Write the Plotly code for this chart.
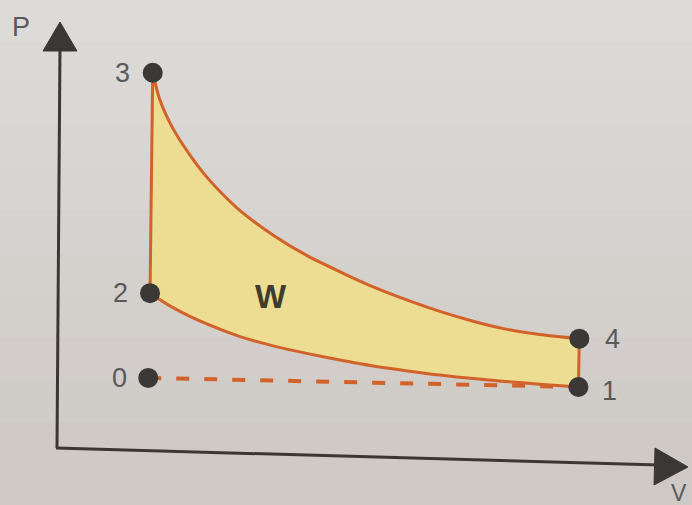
import plotly.graph_objects as go

# ---- data (V, P in arbitrary units) ----
state_labels = ["0", "1", "2", "3", "4"]
state_V = [0.98, 5.76, 1.00, 1.03, 5.77]
state_P = [1.03, 0.90, 2.24, 5.39, 1.59]

# adiabatic expansion 3 -> 4
upper_V = [1.03, 1.11, 1.26, 1.44, 1.61, 1.81, 2.00, 2.39, 2.74, 3.17, 3.48, 3.86, 4.22, 4.59, 4.94, 5.33, 5.77]
upper_P = [5.39, 5.00, 4.58, 4.22, 3.93, 3.65, 3.42, 3.05, 2.78, 2.51, 2.33, 2.14, 1.98, 1.84, 1.73, 1.65, 1.59]
# adiabatic compression 1 -> 2 (listed from 2 to 1)
lower_V = [1.00, 1.26, 1.63, 2.00, 2.39, 2.74, 3.17, 3.48, 3.86, 4.22, 4.59, 4.94, 5.33, 5.76]
lower_P = [2.24, 2.03, 1.80, 1.62, 1.48, 1.38, 1.27, 1.20, 1.13, 1.07, 1.02, 0.98, 0.94, 0.90]

W, H = 692, 505
X_RANGE = [-0.667, 7.022]
Y_RANGE = [-0.786, 6.4286]

LINE = "#d2622a"
FILL = "#ecdd93"
DOT = "#3a3937"
AX = "#3b3734"
TXT = "#5a595a"

fig = go.Figure()

# filled cycle area: 2 -> 3 -> (upper) -> 4 -> 1 -> (lower reversed) -> 2
cyc_V = [state_V[2]] + upper_V + [state_V[1]] + lower_V[::-1]
cyc_P = [state_P[2]] + upper_P + [state_P[1]] + lower_P[::-1]
fig.add_trace(go.Scatter(x=cyc_V, y=cyc_P, mode="lines", fill="toself",
                         fillcolor=FILL, line=dict(color=FILL, width=0), hoverinfo="skip"))

# outline pieces
fig.add_trace(go.Scatter(x=[state_V[2], state_V[3]], y=[state_P[2], state_P[3]], mode="lines",
                         line=dict(color=LINE, width=3), hoverinfo="skip"))
fig.add_trace(go.Scatter(x=upper_V, y=upper_P, mode="lines", line_shape="spline",
                         line=dict(color=LINE, width=3, smoothing=0.8), hoverinfo="skip"))
fig.add_trace(go.Scatter(x=[state_V[4], state_V[1]], y=[state_P[4], state_P[1]], mode="lines",
                         line=dict(color=LINE, width=3), hoverinfo="skip"))
fig.add_trace(go.Scatter(x=lower_V, y=lower_P, mode="lines", line_shape="spline",
                         line=dict(color=LINE, width=3, smoothing=0.8), hoverinfo="skip"))

# dashed isobar 0 -> 1
fig.add_trace(go.Scatter(x=[state_V[0], state_V[1]], y=[state_P[0], state_P[1]], mode="lines",
                         line=dict(color=LINE, width=4, dash="13px,15px"), hoverinfo="skip"))

# state points
fig.add_trace(go.Scatter(x=state_V, y=state_P, mode="markers",
                         marker=dict(color=DOT, size=20), hoverinfo="skip"))

# point labels
offsets = {"0": -29, "1": 31, "2": -30, "3": -30, "4": 33}
yoffs = {"0": 0, "1": -4, "2": 0, "3": 0, "4": 0}
for lab, v, p in zip(state_labels, state_V, state_P):
    fig.add_annotation(x=v, y=p, text=lab, showarrow=False, xshift=offsets[lab], yshift=yoffs[lab],
                       xanchor="center", yanchor="middle",
                       font=dict(family="Liberation Sans", size=27, color=TXT))

fig.add_annotation(x=2.34, y=2.19, text="<b>W</b>", showarrow=False,
                   xanchor="center", yanchor="middle",
                   font=dict(family="Liberation Sans", size=33, color="#3f3d2e"))

# ---- decoration in paper coords (pixel helper) ----
def px(x, y):
    return x / W, 1 - y / H

shapes = []
# paper background gradient
top = (221, 219, 216)
bot = (206, 201, 197)
n = 12
for i in range(n):
    t = i / (n - 1)
    c = tuple(int(top[k] + (bot[k] - top[k]) * t) for k in range(3))
    shapes.append(dict(type="rect", xref="paper", yref="paper", x0=0, x1=1,
                       y0=1 - (i + 1) / n, y1=1 - i / n, line=dict(width=0),
                       fillcolor="rgb(%d,%d,%d)" % c, layer="below"))

def seg(a, b):
    x0, y0 = px(*a)
    x1, y1 = px(*b)
    return dict(type="line", xref="paper", yref="paper", x0=x0, y0=y0, x1=x1, y1=y1,
                line=dict(color=AX, width=3))

def tri(a, b, c):
    pts = [px(*a), px(*b), px(*c)]
    return dict(type="path", xref="paper", yref="paper",
                path="M %f %f L %f %f L %f %f Z" % (pts[0] + pts[1] + pts[2]),
                fillcolor=AX, line=dict(color=AX, width=1))

shapes.append(seg((57, 448), (60, 45)))
shapes.append(tri((60, 22), (43, 51), (77, 51)))
shapes.append(seg((56, 448), (660, 465)))
shapes.append(tri((688, 467), (655, 448), (654, 485)))

fig.add_annotation(xref="paper", yref="paper", x=px(21, 27)[0], y=px(21, 27)[1], text="P",
                   xanchor="center", yanchor="middle",
                   showarrow=False, font=dict(family="Liberation Sans", size=27, color=TXT))
fig.add_annotation(xref="paper", yref="paper", x=px(679, 493)[0], y=px(679, 493)[1], text="V",
                   xanchor="center", yanchor="middle",
                   showarrow=False, font=dict(family="Liberation Sans", size=23, color=TXT))

fig.update_layout(
    width=W, height=H, margin=dict(l=0, r=0, t=0, b=0),
    paper_bgcolor="#d8d5d1", plot_bgcolor="rgba(0,0,0,0)",
    showlegend=False, shapes=shapes,
    xaxis=dict(range=X_RANGE, visible=False, fixedrange=True),
    yaxis=dict(range=Y_RANGE, visible=False, fixedrange=True),
)

fig.write_html("out.html", config={"displayModeBar": False},
               post_script="document.body.style.margin='0';document.body.style.overflow='hidden';")
